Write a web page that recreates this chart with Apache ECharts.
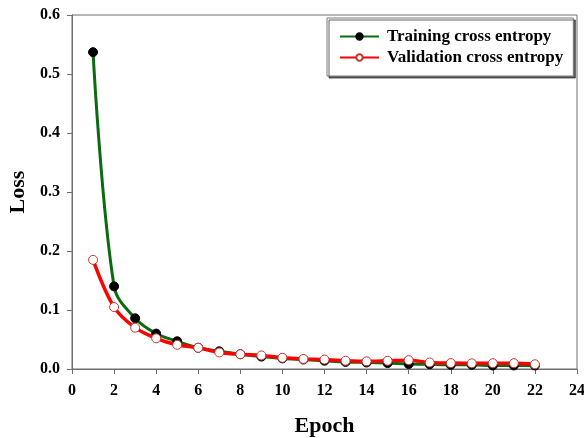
<!DOCTYPE html>
<html>
<head>
<meta charset="utf-8">
<script src="https://cdn.jsdelivr.net/npm/echarts@6/dist/echarts.min.js"></script>
<style>
  html, body { margin: 0; padding: 0; background: #fff; }
  #chart { width: 584px; height: 438px; }
</style>
</head>
<body>
<div id="chart"></div>
<script>
// Epochs and per-epoch loss values
const epochs = [1, 2, 3, 4, 5, 6, 7, 8, 9, 10, 11, 12, 13, 14, 15, 16, 17, 18, 19, 20, 21, 22];
const trainingLoss = [0.537, 0.140, 0.086, 0.060, 0.047, 0.036, 0.030, 0.025, 0.021, 0.018, 0.016,
                      0.014, 0.012, 0.011, 0.010, 0.0085, 0.008, 0.007, 0.007, 0.006, 0.006, 0.006];
const validationLoss = [0.185, 0.105, 0.070, 0.052, 0.041, 0.036, 0.028, 0.025, 0.023, 0.019, 0.017,
                        0.016, 0.014, 0.013, 0.014, 0.015, 0.011, 0.010, 0.0096, 0.0098, 0.0098, 0.008];
const seriesNames = ['Training cross entropy', 'Validation cross entropy'];

const serif = '"Liberation Serif", "Times New Roman", serif';
const axisGray = '#6e6e6e';

const chart = echarts.init(document.getElementById('chart'));
chart.setOption({
  animation: false,
  grid: {
    left: 72, right: 7, top: 15, bottom: 69,
    containLabel: false, outerBoundsMode: 'none',
    show: true, borderColor: axisGray, borderWidth: 1, backgroundColor: 'transparent'
  },
  legend: {
    left: 327, top: 18,
    orient: 'vertical',
    itemWidth: 39, itemHeight: 8, itemGap: 4,
    padding: [10, 10, 10, 12],
    backgroundColor: '#fff',
    borderColor: '#7a7a7a', borderWidth: 1,
    shadowColor: 'rgba(0,0,0,0.6)', shadowOffsetX: 2, shadowOffsetY: 2, shadowBlur: 0,
    textStyle: {
      fontFamily: serif, fontWeight: 'bold', fontSize: 17, color: '#000',
      padding: [0, 0, 0, 3]
    },
    data: seriesNames
  },
  xAxis: {
    type: 'value', min: 0, max: 24, interval: 2,
    name: 'Epoch', nameLocation: 'middle', nameGap: 46,
    nameTextStyle: { fontFamily: serif, fontWeight: 'bold', fontSize: 22, color: '#000' },
    axisLine: { lineStyle: { color: axisGray, width: 1 } },
    axisTick: { inside: false, length: 5, lineStyle: { color: axisGray } },
    axisLabel: { margin: 14, fontFamily: serif, fontWeight: 'bold', fontSize: 16, color: '#000' },
    splitLine: { show: false }
  },
  yAxis: {
    type: 'value', min: 0, max: 0.6, interval: 0.1,
    name: 'Loss', nameLocation: 'middle', nameGap: 39,
    nameTextStyle: { fontFamily: serif, fontWeight: 'bold', fontSize: 22, color: '#000' },
    axisLine: { show: true, lineStyle: { color: axisGray, width: 1 } },
    axisTick: { show: true, inside: false, length: 5, lineStyle: { color: axisGray } },
    axisLabel: {
      margin: 12, fontFamily: serif, fontWeight: 'bold', fontSize: 16, color: '#000',
      formatter: v => v.toFixed(1)
    },
    splitLine: { show: false }
  },
  series: [
    {
      name: seriesNames[0],
      type: 'line',
      data: epochs.map((e, i) => [e, trainingLoss[i]]),
      smooth: 0.35,
      symbol: 'circle', symbolSize: 9,
      lineStyle: { color: '#0b6b10', width: 3 },
      itemStyle: { color: '#000', borderColor: '#000', borderWidth: 1 },
      z: 2
    },
    {
      name: seriesNames[1],
      type: 'line',
      data: epochs.map((e, i) => [e, validationLoss[i]]),
      smooth: 0.35,
      symbol: 'circle', symbolSize: 9,
      showAllSymbol: true,
      lineStyle: { color: '#ff0000', width: 3.5 },
      itemStyle: { color: '#fff', borderColor: '#c0392b', borderWidth: 1 },
      z: 3
    }
  ]
});
</script>
</body>
</html>
